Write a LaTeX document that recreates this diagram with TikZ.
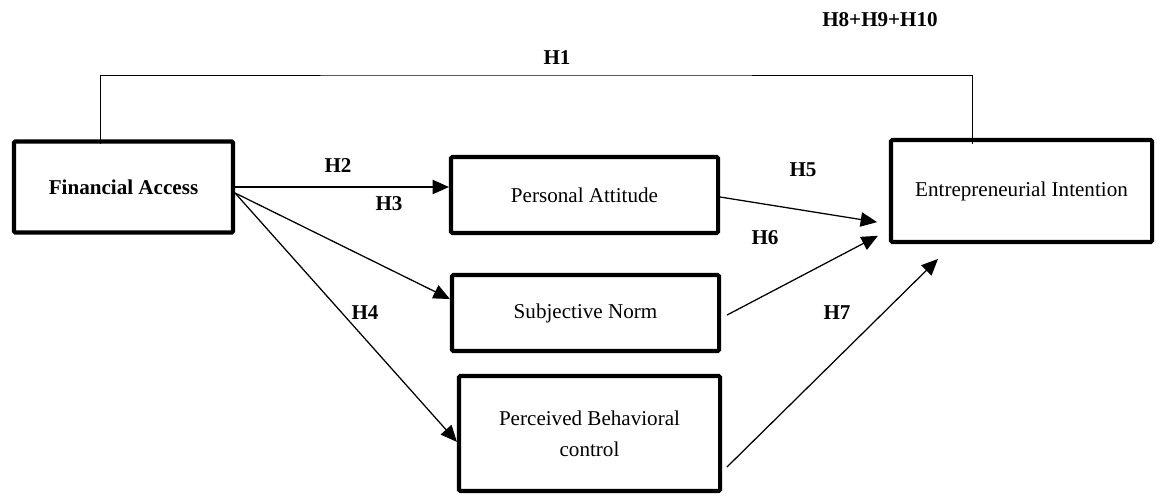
\documentclass[tikz,border=0pt]{standalone}
\usepackage{fontspec}
\setmainfont{Liberation Serif}
\usepackage{tikz}
\usetikzlibrary{arrows.meta}

\tikzset{
    varbox/.style={draw, line width=2.9pt, rounded corners=1pt, align=center,
        inner sep=0pt, font=\fontsize{15}{22}\selectfont},
    path/.style={line width=0.9pt, -{Triangle[length=0.41cm, width=0.36cm]}},
    hyp/.style={font=\fontsize{15}{18}\selectfont\bfseries}
}

\begin{document}
\begin{tikzpicture}[x=0.025cm, y=-0.025cm]
    \useasboundingbox (0, 0) rectangle (1157, 495);

    % Variables
    \node[varbox, minimum width=5.475cm, minimum height=2.275cm, font=\fontsize{15}{18}\selectfont\bfseries]
        (fa) at (123.5, 187) {Financial Access};
    \node[varbox, minimum width=6.675cm, minimum height=1.9cm] (pa) at (584.5, 195) {Personal Attitude};
    \node[varbox, minimum width=6.675cm, minimum height=1.9cm] (sn) at (585.5, 313) {Subjective Norm};
    \node[varbox, minimum width=6.525cm, minimum height=2.875cm] (pbc) at (589.5, 433.5) {Perceived Behavioral\\control};
    \node[varbox, minimum width=6.525cm, minimum height=2.55cm] (ei) at (1021.5, 191) {Entrepreneurial Intention};

    % H1 (direct effect)
    \coordinate (h1top) at (536, 75);
    \draw[line width=0.7pt] ([xshift=-0.5875cm, yshift=-0.11cm]fa.north) |- (h1top)
        -| ([xshift=-1.2375cm, yshift=-0.15cm]ei.north);

    % Paths from financial access
    \draw[path] (fa.east) -- (pa.west |- fa.east);
    \draw[path] ([yshift=-0.15cm]fa.east) -- ([yshift=0.35cm]sn.west);
    \draw[path] ([yshift=-0.15cm]fa.east) -- ([yshift=-0.21cm]pbc.west);

    % Paths to entrepreneurial intention
    \draw[path, shorten >=0.3cm] ([yshift=-0.05cm]pa.east) -- ([yshift=-0.825cm]ei.west);
    \draw[path, shorten >=0.31cm] ([xshift=0.15cm, yshift=-0.05cm]sn.east) -- ([yshift=-0.975cm]ei.west);
    \draw[path, shorten >=0.53cm] ([xshift=0.12cm, yshift=-0.84cm]pbc.east) -- ([xshift=-1.71cm]ei.south);

    % Hypotheses
    \node[hyp] (h1) at (557, 58) {H1};
    \node[hyp] (h2) at (338, 166) {H2};
    \node[hyp] (h3) at (389, 204) {H3};
    \node[hyp] (h4) at (365, 313) {H4};
    \node[hyp] (h5) at (803, 170) {H5};
    \node[hyp] (h6) at (765, 238) {H6};
    \node[hyp] (h7) at (837, 313) {H7};
    \node[hyp] (h8) at (880, 20) {H8+H9+H10};
\end{tikzpicture}
\end{document}
